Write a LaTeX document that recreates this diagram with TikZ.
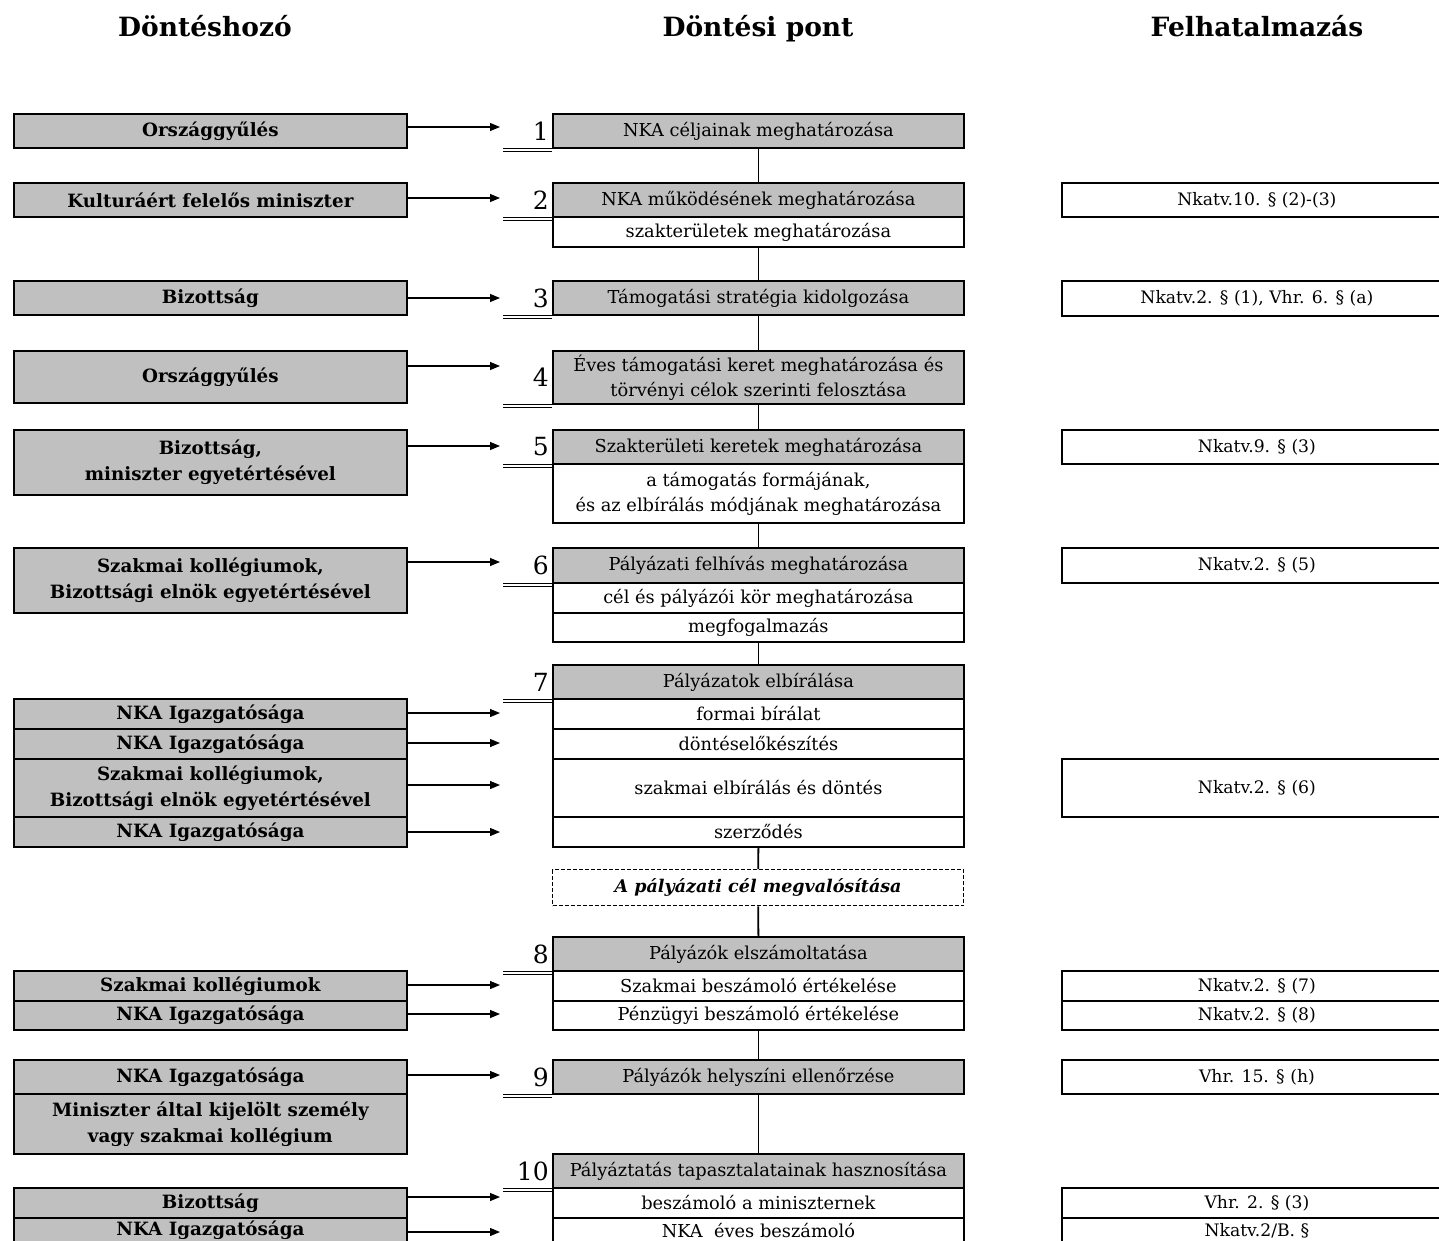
\documentclass[tikz,border=0pt]{standalone}
\usepackage{fontspec}
\setmainfont{DejaVu Serif}
\usetikzlibrary{arrows.meta}
\definecolor{boxgray}{RGB}{192,192,192}
\newcommand\stepnum[2]{%
  \node[numst] at ([xshift=-3pt]#1.west) {#2};
  \draw[dbl] ([xshift=-49pt]#1.south west) -- (#1.south west);
  \draw[dbl] ([xshift=-49pt,yshift=-3pt]#1.south west) -- ([yshift=-3pt]#1.south west);}
\begin{document}
\begin{tikzpicture}[x=1pt,y=-1pt,
  bx/.style={draw, line width=1.8pt, inner sep=0pt, align=center, anchor=north west},
  gb/.style={bx, fill=boxgray},
  wb/.style={bx, fill=white},
  ht/.style={minimum height=#1pt},
  mcol/.style={minimum width=411pt, font=\fontsize{17.8}{25}\selectfont},
  lcol/.style={minimum width=393pt, font=\bfseries\fontsize{18.3}{26}\selectfont},
  rcol/.style={minimum width=390pt, font=\fontsize{17.2}{24}\selectfont},
  hdr/.style={anchor=base, inner sep=0pt, font=\bfseries\fontsize{26.5}{30}\selectfont},
  numst/.style={anchor=east, inner sep=0pt, font=\fontsize{25}{28}\selectfont},
  dbl/.style={line width=1.1pt},
  arr/.style={line width=1.1pt, -{Triangle[length=10pt,width=8pt]}},
  conn/.style={line width=1.8pt},
  dashbox/.style={bx, fill=white, line width=1.3pt, dash pattern=on 4pt off 2pt,
     font=\bfseries\itshape\fontsize{17.5}{24}\selectfont, minimum width=411pt}]
\useasboundingbox (0,0) rectangle (1439,1240);
\clip (0,0) rectangle (1439,1240);

% headers
\node[hdr] (h1) at (205,36) {Döntéshozó};
\node[hdr] (h2) at (758,36) {Döntési pont};
\node[hdr] (h3) at (1257,36) {Felhatalmazás};

% middle column
\node[gb,mcol,ht=34] (M1) at (552,113) {NKA céljainak meghatározása};
\node[gb,mcol,ht=34] (M2) at (552,182) {NKA működésének meghatározása};
\node[wb,mcol,ht=30] (M2b) at (552,216) {szakterületek meghatározása};
\node[gb,mcol,ht=34] (M3) at (552,280) {Támogatási stratégia kidolgozása};
\node[gb,mcol,ht=53] (M4) at (552,350) {Éves támogatási keret meghatározása és\\törvényi célok szerinti felosztása};
\node[gb,mcol,ht=34] (M5) at (552,429) {Szakterületi keretek meghatározása};
\node[wb,mcol,ht=59] (M5b) at (552,463) {a támogatás formájának,\\és az elbírálás módjának meghatározása};
\node[gb,mcol,ht=35] (M6) at (552,547) {Pályázati felhívás meghatározása};
\node[wb,mcol,ht=30] (M6b) at (552,582) {cél és pályázói kör meghatározása};
\node[wb,mcol,ht=29] (M6c) at (552,612) {megfogalmazás};
\node[gb,mcol,ht=34] (M7) at (552,664) {Pályázatok elbírálása};
\node[wb,mcol,ht=30] (M7a) at (552,698) {formai bírálat};
\node[wb,mcol,ht=30] (M7b) at (552,728) {döntéselőkészítés};
\node[wb,mcol,ht=58] (M7c) at (552,758) {szakmai elbírálás és döntés};
\node[wb,mcol,ht=30] (M7d) at (552,816) {szerződés};
\node[dashbox,ht=36] (D) at (552,869) {A pályázati cél megvalósítása};
\node[gb,mcol,ht=34] (M8) at (552,936) {Pályázók elszámoltatása};
\node[wb,mcol,ht=30] (M8a) at (552,970) {Szakmai beszámoló értékelése};
\node[wb,mcol,ht=29] (M8b) at (552,1000) {Pénzügyi beszámoló értékelése};
\node[gb,mcol,ht=34] (M9) at (552,1059) {Pályázók helyszíni ellenőrzése};
\node[gb,mcol,ht=34] (M10) at (552,1153) {Pályáztatás tapasztalatainak hasznosítása};
\node[wb,mcol,ht=30] (M10a) at (552,1187) {beszámoló a miniszternek};
\node[wb,mcol,ht=25] (M10b) at (552,1217) {NKA\ \ éves beszámoló};

% vertical connectors
\draw[conn] (M1.south) -- (M2.north);
\draw[conn] (M2b.south) -- (M3.north);
\draw[conn] (M3.south) -- (M4.north);
\draw[conn] (M4.south) -- (M5.north);
\draw[conn] (M5b.south) -- (M6.north);
\draw[conn] (M6c.south) -- (M7.north);
\draw[conn] (M7d.south) -- (D.north);
\draw[conn] (D.south) -- (M8.north);
\draw[conn] (M8b.south) -- (M9.north);
\draw[conn] (M9.south) -- (M10.north);

% numbers and double lines
\stepnum{M1}{1}
\stepnum{M2}{2}
\stepnum{M3}{3}
\stepnum{M4}{4}
\stepnum{M5}{5}
\stepnum{M6}{6}
\stepnum{M7}{7}
\stepnum{M8}{8}
\stepnum{M9}{9}
\stepnum{M10}{10}

% left column
\node[gb,lcol,ht=34] (L1) at (13,113) {Országgyűlés};
\node[gb,lcol,ht=34] (L2) at (13,182) {Kulturáért felelős miniszter};
\node[gb,lcol,ht=34] (L3) at (13,280) {Bizottság};
\node[gb,lcol,ht=52] (L4) at (13,350) {Országgyűlés};
\node[gb,lcol,ht=65] (L5) at (13,429) {Bizottság,\\miniszter egyetértésével};
\node[gb,lcol,ht=65] (L6) at (13,547) {Szakmai kollégiumok,\\Bizottsági elnök egyetértésével};
\node[gb,lcol,ht=30] (L7a) at (13,698) {NKA Igazgatósága};
\node[gb,lcol,ht=30] (L7b) at (13,728) {NKA Igazgatósága};
\node[gb,lcol,ht=58] (L7c) at (13,758) {Szakmai kollégiumok,\\Bizottsági elnök egyetértésével};
\node[gb,lcol,ht=30] (L7d) at (13,816) {NKA Igazgatósága};
\node[gb,lcol,ht=30] (L8a) at (13,970) {Szakmai kollégiumok};
\node[gb,lcol,ht=29] (L8b) at (13,1000) {NKA Igazgatósága};
\node[gb,lcol,ht=34] (L9a) at (13,1059) {NKA Igazgatósága};
\node[gb,lcol,ht=60] (L9b) at (13,1093) {Miniszter által kijelölt személy\\vagy szakmai kollégium};
\node[gb,lcol,ht=30] (L10a) at (13,1187) {Bizottság};
\node[gb,lcol,ht=25] (L10b) at (13,1217) {NKA Igazgatósága};

% right column
\node[wb,rcol,ht=34] (R2) at (1061,182) {Nkatv.10. § (2)-(3)};
\node[wb,rcol,ht=35] (R3) at (1061,280) {Nkatv.2. § (1), Vhr. 6. § (a)};
\node[wb,rcol,ht=34] (R5) at (1061,429) {Nkatv.9. § (3)};
\node[wb,rcol,ht=35] (R6) at (1061,547) {Nkatv.2. § (5)};
\node[wb,rcol,ht=58] (R7) at (1061,758) {Nkatv.2. § (6)};
\node[wb,rcol,ht=30] (R8a) at (1061,970) {Nkatv.2. § (7)};
\node[wb,rcol,ht=29] (R8b) at (1061,1000) {Nkatv.2. § (8)};
\node[wb,rcol,ht=34] (R9) at (1061,1059) {Vhr. 15. § (h)};
\node[wb,rcol,ht=30] (R10a) at (1061,1187) {Vhr. 2. § (3)};
\node[wb,rcol,ht=25] (R10b) at (1061,1217) {Nkatv.2/B. §};

% arrow tips
\coordinate (t1) at (500,127);
\coordinate (t2) at (500,198);
\coordinate (t3) at (500,298);
\coordinate (t4) at (500,366);
\coordinate (t5) at (500,446);
\coordinate (t6) at (500,562);
\coordinate (t7a) at (500,713);
\coordinate (t7b) at (500,743);
\coordinate (t7c) at (500,785);
\coordinate (t7d) at (500,832);
\coordinate (t8a) at (500,985);
\coordinate (t8b) at (500,1014);
\coordinate (t9) at (500,1075);
\coordinate (t10a) at (500,1197);
\coordinate (t10b) at (500,1232);

\draw[arr] (L1.east |- t1) -- (t1);
\draw[arr] (L2.east |- t2) -- (t2);
\draw[arr] (L3.east |- t3) -- (t3);
\draw[arr] (L4.east |- t4) -- (t4);
\draw[arr] (L5.east |- t5) -- (t5);
\draw[arr] (L6.east |- t6) -- (t6);
\draw[arr] (L7a.east |- t7a) -- (t7a);
\draw[arr] (L7b.east |- t7b) -- (t7b);
\draw[arr] (L7c.east |- t7c) -- (t7c);
\draw[arr] (L7d.east |- t7d) -- (t7d);
\draw[arr] (L8a.east |- t8a) -- (t8a);
\draw[arr] (L8b.east |- t8b) -- (t8b);
\draw[arr] (L9a.east |- t9) -- (t9);
\draw[arr] (L10a.east |- t10a) -- (t10a);
\draw[arr] (L10b.east |- t10b) -- (t10b);
\end{tikzpicture}
\end{document}
